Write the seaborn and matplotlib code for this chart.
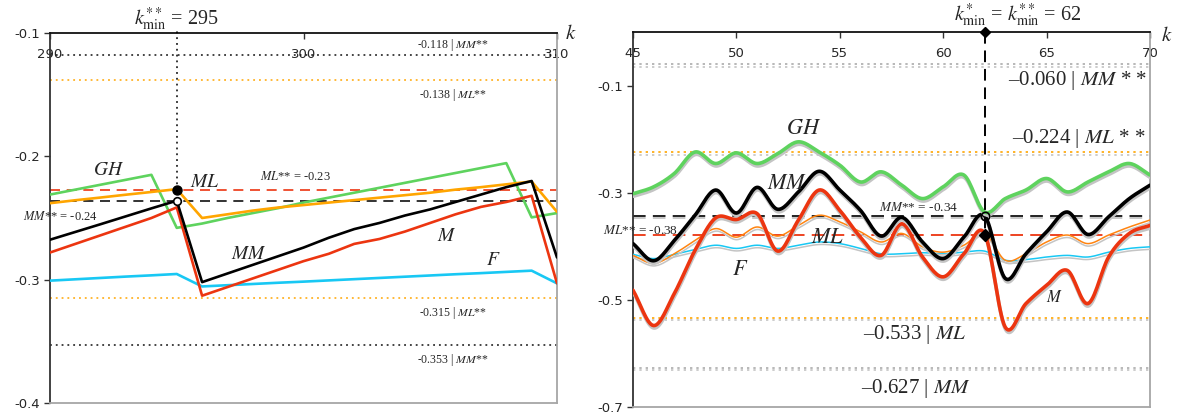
import numpy as np
import matplotlib
matplotlib.use("Agg")
import matplotlib.pyplot as plt
import matplotlib.patheffects as pe
import seaborn as sns

# ---------------- data: left panel (k = 290 .. 310) ----------------
k_left = list(range(290, 311))
gh_left = [-0.231, -0.227, -0.223, -0.219, -0.215, -0.258, -0.2545, -0.250, -0.246,
           -0.242, -0.2375, -0.2335, -0.2295, -0.2255, -0.2215, -0.2175, -0.2135,
           -0.2095, -0.2055, -0.2495, -0.246]
ml_left = [-0.238, -0.2356, -0.2334, -0.2311, -0.2289, -0.2266, -0.250, -0.247, -0.244,
           -0.2415, -0.2395, -0.2375, -0.2355, -0.2335, -0.2315, -0.2295, -0.227,
           -0.225, -0.2227, -0.2204, -0.245]
mm_left = [-0.2676, -0.2613, -0.255, -0.2486, -0.2422, -0.236, -0.302, -0.295, -0.288,
           -0.281, -0.274, -0.266, -0.259, -0.254, -0.248, -0.243, -0.237, -0.231,
           -0.225, -0.220, -0.282]
m_left = [-0.278, -0.271, -0.264, -0.257, -0.250, -0.2414, -0.313, -0.306, -0.299,
          -0.292, -0.285, -0.279, -0.271, -0.267, -0.261, -0.254, -0.247, -0.241,
          -0.237, -0.232, -0.303]
f_left = [-0.3008, -0.2997, -0.2986, -0.2975, -0.2965, -0.2954, -0.3055, -0.3045,
          -0.3035, -0.3025, -0.3016, -0.3006, -0.2996, -0.2986, -0.2976, -0.2966,
          -0.2956, -0.2947, -0.2937, -0.2927, -0.303]
kmin_left = 295
ml_star_left = -0.227
mm_star_left = -0.236
bounds_left = [(-0.118, "MM**", "dot_k"), (-0.138, "ML**", "dot_o"),
               (-0.315, "ML**", "dot_o"), (-0.353, "MM**", "dot_k")]
xticks_left = [290, 300, 310]
yticks_left = [-0.1, -0.2, -0.3, -0.4]

# ---------------- data: right panel (k = 45 .. 70) ----------------
k_right = list(range(45, 71))
gh_right = [-0.302, -0.289, -0.264, -0.224, -0.2455, -0.2256, -0.2455, -0.227, -0.205,
            -0.224, -0.2486, -0.280, -0.261, -0.286, -0.311, -0.289, -0.267, -0.336,
            -0.311, -0.295, -0.2735, -0.2985, -0.280, -0.261, -0.2455, -0.267]
mm_right = [-0.395, -0.427, -0.389, -0.342, -0.295, -0.338, -0.290, -0.331, -0.2985,
            -0.260, -0.295, -0.333, -0.381, -0.346, -0.392, -0.423, -0.383, -0.343,
            -0.460, -0.414, -0.373, -0.336, -0.378, -0.345, -0.311, -0.286]
m_right = [-0.482, -0.548, -0.488, -0.4075, -0.347, -0.350, -0.339, -0.409, -0.351,
           -0.295, -0.333, -0.383, -0.417, -0.358, -0.420, -0.457, -0.414, -0.376,
           -0.551, -0.507, -0.473, -0.445, -0.507, -0.420, -0.376, -0.361]
ml_right = [-0.417, -0.432, -0.414, -0.389, -0.367, -0.383, -0.364, -0.381, -0.361,
            -0.342, -0.3545, -0.373, -0.392, -0.376, -0.401, -0.411, -0.398, -0.376,
            -0.426, -0.414, -0.392, -0.379, -0.395, -0.379, -0.364, -0.351]
f_right = [-0.415, -0.423, -0.415, -0.406, -0.398, -0.404, -0.398, -0.404, -0.398,
           -0.392, -0.395, -0.404, -0.414, -0.414, -0.412, -0.414, -0.411, -0.409,
           -0.426, -0.425, -0.420, -0.417, -0.420, -0.411, -0.404, -0.401]
kmin_right = 62
ml_star_right = -0.379
mm_star_right = -0.343
xticks_right = [45, 50, 55, 60, 65, 70]
yticks_right = [-0.1, -0.3, -0.5, -0.7]

# ---------------- style ----------------
sns.set_style("white")
plt.rcParams["font.family"] = ["DejaVu Sans"]
plt.rcParams["mathtext.fontset"] = "stix"
plt.rcParams["axes.unicode_minus"] = False

SERIF = "Liberation Serif"
GREEN = "#5ed35e"
ORANGE = "#ffa500"
ORANGE_R = "#ff8410"
RED = "#ec3510"
BLUE = "#18c8f4"
GREY = "#ababab"
SHADOW = "#c4c4c4"

shadow = [pe.SimpleLineShadow(offset=(0.3, -1.8), shadow_color=SHADOW, alpha=1.0), pe.Normal()]


def smooth(x, y, n=16):
    """Catmull-Rom curve through the points (smoothed line rendering)."""
    x = np.asarray(x, float)
    y = np.asarray(y, float)
    px = np.concatenate([[2 * x[0] - x[1]], x, [2 * x[-1] - x[-2]]])
    py = np.concatenate([[2 * y[0] - y[1]], y, [2 * y[-1] - y[-2]]])
    t = np.linspace(0, 1, n, endpoint=False)
    xs, ys = [], []
    for i in range(1, len(px) - 2):
        for p, out in ((px, xs), (py, ys)):
            p0, p1, p2, p3 = p[i - 1], p[i], p[i + 1], p[i + 2]
            out.append(0.5 * (2 * p1 + (-p0 + p2) * t + (2 * p0 - 5 * p1 + 4 * p2 - p3) * t ** 2
                              + (-p0 + 3 * p1 - 3 * p2 + p3) * t ** 3))
    xs.append([x[-1]])
    ys.append([y[-1]])
    return np.concatenate(xs), np.concatenate(ys)


def style_axes(ax, xlim, ylim, xticks, yticks):
    ax.set_xlim(*xlim)
    ax.set_ylim(*ylim)
    ax.set_xticks(xticks)
    ax.set_yticks(yticks)
    ax.set_yticklabels([f"{v:g}" for v in yticks])
    ax.xaxis.tick_top()
    ax.tick_params(axis="x", top=True, bottom=False, labeltop=True, labelbottom=False,
                   direction="in", length=4, width=1, pad=-20.5, labelsize=9.5, color="#333333")
    ax.tick_params(axis="y", left=True, direction="out", length=4, width=1, pad=3,
                   labelsize=9.5, color="#333333")
    for side, col in (("left", "#333333"), ("top", "#111111"),
                      ("right", "#a6a6a6"), ("bottom", "#a6a6a6")):
        ax.spines[side].set_visible(True)
        ax.spines[side].set_color(col)
        ax.spines[side].set_linewidth(1.3)
    ax.set_xlabel("")
    ax.set_ylabel("")


fig = plt.figure(figsize=(11.79, 4.17), dpi=100)
ax1 = fig.add_axes([50 / 1179, 14 / 417, 507 / 1179, 370 / 417])
ax2 = fig.add_axes([633 / 1179, 10 / 417, 517 / 1179, 375 / 417])

# ================= left panel =================
for val, lab, kind in bounds_left:
    col = "#111111" if kind == "dot_k" else ORANGE
    ax1.axhline(val, color=col, lw=1.1, ls=(0, (1.2, 2.6)), zorder=1)
ax1.axhline(ml_star_left, color=RED, lw=1.2, ls=(0, (6, 4)), zorder=1)
ax1.axhline(mm_star_left, color="#111111", lw=1.2, ls=(0, (6, 4)), zorder=1)

for vals, col in ((f_left, BLUE), (gh_left, GREEN), (ml_left, ORANGE),
                  (m_left, RED), (mm_left, "black")):
    sns.lineplot(x=k_left, y=vals, ax=ax1, color=col, linewidth=1.9,
                 estimator=None, sort=False, zorder=3)

ax1.plot([kmin_left, kmin_left], [ml_star_left, -0.096], color="black", lw=1.1,
         ls=(0, (1.2, 2.6)), clip_on=False, zorder=4)
ax1.plot([kmin_left], [ml_star_left], "o", ms=6.5, color="black", zorder=6)
ax1.plot([kmin_left], [mm_star_left], "o", ms=5.5, mfc="white", mec="black", mew=1.2, zorder=6)

bound_pos_left = {-0.118: -0.1097, -0.138: -0.1502, -0.315: -0.3267, -0.353: -0.3648}
for val, lab, kind in bounds_left:
    ax1.text(305.9, bound_pos_left[val], f"{val:.3f} | $\\mathit{{{lab[:2]}}}$**",
             family=SERIF, fontsize=8.5, ha="center", va="center", zorder=5)
ax1.text(298.3, -0.2166, f"$\\mathit{{ML}}$** = {ml_star_left:.2f}", family=SERIF,
         fontsize=9, ha="left", va="center")
ax1.text(290.4, -0.249, f"$\\mathit{{MM}}$** = {mm_star_left:.2f}", family=SERIF,
         fontsize=9, ha="center", va="center")

for txt, kx, vy, fs in (("GH", 292.3, -0.2109, 14), ("ML", 296.1, -0.2204, 14),
                        ("MM", 297.85, -0.279, 14), ("M", 305.66, -0.2644, 14),
                        ("F", 307.5, -0.2838, 14)):
    ax1.text(kx, vy, f"$\\mathit{{{txt}}}$", fontsize=fs, ha="center", va="center", zorder=7)
ax1.text(310.3, -0.1, "$\\mathit{k}$", fontsize=15, ha="left", va="center", clip_on=False)
ax1.text(kmin_left, -0.0935, "$k^{**}_{\\mathrm{min}}$ = %d" % kmin_left, family=SERIF,
         fontsize=14.5, ha="center", va="baseline", clip_on=False)

style_axes(ax1, (290, 310), (-0.4, -0.1), xticks_left, yticks_left)

# ================= right panel =================
bounds_right = [(-0.060, "MM", " * *", GREY), (-0.224, "ML", " * *", ORANGE),
                (-0.533, "ML", "", ORANGE), (-0.627, "MM", "", GREY)]
for val, lab, stars, col in bounds_right:
    ax2.axhline(val, color=col, lw=1.2, ls=(0, (1.4, 2.4)), path_effects=shadow, zorder=1)
ax2.axhline(mm_star_right, color="#111111", lw=1.3, ls=(0, (7, 4)), path_effects=shadow, zorder=2)
ax2.axhline(ml_star_right, color=RED, lw=1.3, ls=(0, (7, 4)), zorder=2)

for vals, col, lw in ((f_right, BLUE, 1.1), (ml_right, ORANGE_R, 1.1), (m_right, RED, 2.6),
                      (mm_right, "black", 2.6), (gh_right, GREEN, 2.6)):
    xs, ys = smooth(k_right, vals)
    sns.lineplot(x=xs, y=ys, ax=ax2, color=col, linewidth=lw, estimator=None, sort=False,
                 path_effects=shadow, zorder=3)

ax2.plot([kmin_right, kmin_right], [0.0, ml_star_right], color="black", lw=1.4,
         ls=(0, (6, 3.5)), zorder=4, clip_on=False)
ax2.plot([kmin_right], [0.0], "D", ms=5.5, color="black", clip_on=False, zorder=8)
ax2.plot([kmin_right], [ml_star_right], "D", ms=6, color="black", zorder=8)
ax2.plot([kmin_right], [mm_star_right], "o", ms=6, mfc="none", mec="black", mew=1.2, zorder=8)

bound_pos_right = {-0.060: (69.85, -0.0897, "right"), -0.224: (69.8, -0.199, "right"),
                   -0.533: (58.6, -0.5645, "center"), -0.627: (58.7, -0.6654, "center")}
for val, lab, stars, col in bounds_right:
    kx, vy, ha = bound_pos_right[val]
    ax2.text(kx, vy, f"\u2013{abs(val):.3f} | $\\mathit{{{lab}}}${stars}", family=SERIF,
             fontsize=15, ha=ha, va="center", zorder=6)
ax2.text(58.8, -0.327, f"$\\mathit{{MM}}$** = {mm_star_right:.2f}", family=SERIF,
         fontsize=9.5, ha="center", va="center", zorder=6)
ax2.text(43.55, -0.370, f"$\\mathit{{ML}}$** = {ml_star_right:.2f}", family=SERIF,
         fontsize=9.5, ha="left", va="center", zorder=6, clip_on=False)

for txt, kx, vy, fs in (("GH", 53.27, -0.179, 16), ("MM", 52.45, -0.281, 16),
                        ("ML", 54.4, -0.382, 16), ("F", 50.2, -0.443, 16),
                        ("M", 65.4, -0.494, 12)):
    ax2.text(kx, vy, f"$\\mathit{{{txt}}}$", fontsize=fs, ha="center", va="center", zorder=7)
ax2.text(70.55, -0.0056, "$\\mathit{k}$", fontsize=15, ha="left", va="center", clip_on=False)
ax2.text(kmin_right + 1.6, 0.0215,
         "$k^{*}_{\\mathrm{min}}$ = $k^{**}_{\\mathrm{min}}$ = %d" % kmin_right,
         family=SERIF, fontsize=14.5, ha="center", va="baseline", clip_on=False)

style_axes(ax2, (45, 70), (-0.7, 0.0), xticks_right, yticks_right)

fig.savefig("out.png", dpi=100)
